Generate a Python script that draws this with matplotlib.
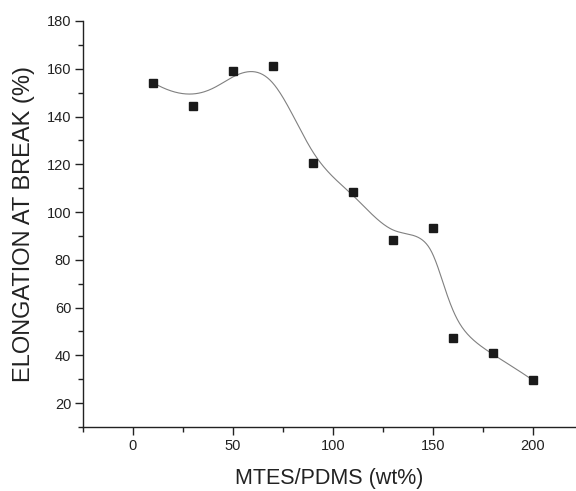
import numpy as np
import matplotlib
matplotlib.use("Agg")
from matplotlib import pyplot as plt
from matplotlib.ticker import MultipleLocator

# MTES/PDMS ratio (wt%) and elongation at break (%)
mtes = [10, 30, 50, 70, 90, 110, 130, 150, 160, 180, 200]
elongation = [154.2, 144.5, 159.2, 161.0, 120.4, 108.2, 88.4, 93.3, 47.2, 41.0, 29.6]


def bspline_curve(px, py, degree=3, num=400):
	# clamped B-spline with the data points as control points
	n = len(px)
	inner = np.arange(1, n - degree)
	knots = np.concatenate([np.zeros(degree + 1), inner, np.full(degree + 1, n - degree)])
	t = np.linspace(0, n - degree, num)
	t[-1] -= 1e-9
	basis = np.zeros((num, len(knots) - 1))
	for i in range(len(knots) - 1):
		basis[:, i] = (t >= knots[i]) & (t < knots[i + 1])
	for k in range(1, degree + 1):
		newb = np.zeros((num, len(knots) - 1 - k))
		for i in range(len(knots) - 1 - k):
			left = 0.
			right = 0.
			d1 = knots[i + k] - knots[i]
			d2 = knots[i + k + 1] - knots[i + 1]
			if d1 > 0:
				left = (t - knots[i]) / d1 * basis[:, i]
			if d2 > 0:
				right = (knots[i + k + 1] - t) / d2 * basis[:, i + 1]
			newb[:, i] = left + right
		basis = newb
	return basis @ np.asarray(px, float), basis @ np.asarray(py, float)


plt.rcParams['font.family'] = ['Liberation Sans', 'DejaVu Sans']

fig = plt.figure(figsize=(5.76, 4.91), dpi=100)
ax = fig.add_axes([0.144, 0.1303, 0.856, 0.827])

cx, cy = bspline_curve(mtes, elongation)
ax.plot(cx, cy, color="#808080", lw=0.8, zorder=2)
ax.plot(mtes, elongation, "s", color="#1a1a1a", ms=5.2, zorder=3, clip_on=False)

ax.set_xlim(-25, 221.5)
ax.set_ylim(10, 180)
ax.xaxis.set_major_locator(MultipleLocator(50))
ax.xaxis.set_minor_locator(MultipleLocator(25))
ax.yaxis.set_major_locator(MultipleLocator(20))
ax.yaxis.set_minor_locator(MultipleLocator(10))
ax.set_yticks(np.arange(20, 181, 20))
ax.set_xticks(np.arange(0, 201, 50))

for side in ["top", "right"]:
	ax.spines[side].set_visible(False)
for side in ["left", "bottom"]:
	ax.spines[side].set_linewidth(1.0)
	ax.spines[side].set_color("#222222")

ax.tick_params(which="major", direction="out", length=5.5, width=1.0, colors="#222222",
	labelsize=10.5, pad=3)
ax.tick_params(which="minor", direction="out", length=3.5, width=1.0, colors="#222222")

ax.set_xlabel("MTES/PDMS (wt%)", fontsize=15.5, color="#222222", labelpad=11)
ax.set_ylabel("ELONGATION AT BREAK (%)", fontsize=17, color="#222222", labelpad=8)

plt.savefig("out.png", dpi=100)
